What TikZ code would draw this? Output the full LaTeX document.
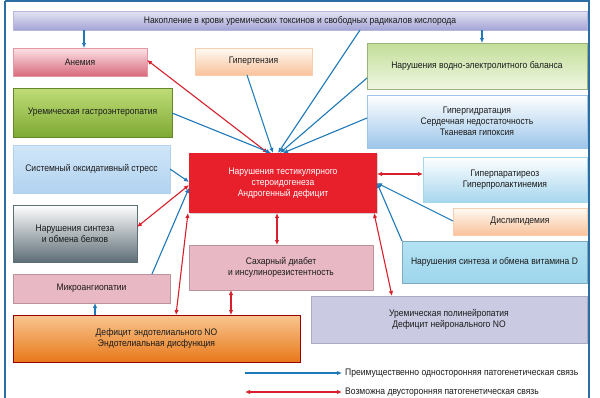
\documentclass[tikz,border=0pt]{standalone}
\usepackage{fontspec}
\setmainfont{Liberation Sans}[FakeStretch=0.9]
\usetikzlibrary{arrows.meta,shadows}
\definecolor{frameblue}{HTML}{2C6EA4}
\definecolor{linkblue}{HTML}{1F78B8}
\definecolor{linkred}{HTML}{D8202C}
\definecolor{txt}{HTML}{1A1A1A}
\definecolor{topA}{HTML}{E4E4F4}\definecolor{topB}{HTML}{A4A4D6}
\definecolor{anA}{HTML}{FBE2E6}\definecolor{anB}{HTML}{D86A7C}
\definecolor{peachA}{HTML}{FFFAF4}\definecolor{peachB}{HTML}{F8C29A}
\definecolor{watA}{HTML}{C2DE98}\definecolor{watB}{HTML}{F0F6E2}
\definecolor{gasA}{HTML}{C0DC78}\definecolor{gasB}{HTML}{7EAA34}
\definecolor{hydB}{HTML}{9CC6EA}
\definecolor{strA}{HTML}{D0E6F8}\definecolor{strB}{HTML}{B2D2F0}
\definecolor{protB}{HTML}{5E6E76}
\definecolor{centre}{HTML}{E8202C}
\definecolor{parB}{HTML}{A6D6EE}
\definecolor{vitA}{HTML}{B4E2F3}\definecolor{vitB}{HTML}{9ED6EC}
\definecolor{pinkbox}{HTML}{E8B8C4}
\definecolor{noA}{HTML}{F8C690}\definecolor{noM}{HTML}{F08A2C}\definecolor{noB}{HTML}{E8781A}
\definecolor{neuro}{HTML}{CACAE2}
\tikzset{
  box/.style={rectangle, anchor=north west, inner sep=0pt, outer sep=0pt, align=center,
    text=txt, font=\fontsize{9.5}{11}\selectfont, draw=#1, line width=0.4pt,
    drop shadow={shadow xshift=0.8pt, shadow yshift=-1.2pt, opacity=0.35}},
  box/.default=gray!40,
  onearrow/.style={draw=linkblue, line width=1.1pt, -{Latex[length=5pt,width=4.5pt]}},
  twoarrow/.style={draw=linkred, line width=1.1pt, {Latex[length=5pt,width=4.5pt]}-{Latex[length=5pt,width=4.5pt]}},
}
\begin{document}
\begin{tikzpicture}[x=1pt,y=-1pt]
\useasboundingbox (0,0) rectangle (600,397);
\fill[white] (0,0) rectangle (600,397);
\draw[frameblue, line width=1.4pt] (5,1) -- (589,1) -- (589,400);
\draw[frameblue, line width=1.4pt] (5,1) -- (5,400);

\node[box=topB!80!white, minimum width=574pt, minimum height=19pt, top color=topA, bottom color=topB] (top) at (13,11) {Накопление в крови уремических токсинов и свободных радикалов кислорода};
\node[box=anB!70!white, minimum width=134pt, minimum height=28pt, top color=anA, bottom color=anB] (anemia) at (13,48) {Анемия};
\node[box=peachB!80!white, minimum width=117pt, minimum height=27pt, top color=peachA, bottom color=peachB] (hyper) at (195,48) {Гипертензия};
\node[box=watA!80!black, minimum width=220pt, minimum height=46pt, top color=watA, bottom color=watB] (water) at (367,43) {Нарушения водно-электролитного баланса};
\node[box=gasB!80!black, minimum width=159pt, minimum height=49pt, top color=gasA, bottom color=gasB] (gastro) at (13,88) {Уремическая гастроэнтеропатия};
\node[box=hydB, minimum width=220pt, minimum height=53pt, top color=white, bottom color=hydB] (hydr) at (367,95) {Гипергидратация\\Сердечная недостаточность\\Тканевая гипоксия};
\node[box=strB, minimum width=157pt, minimum height=48pt, top color=strA, bottom color=strB] (stress) at (13,145) {Системный оксидативный стресс};
\node[box=protB, minimum width=124pt, minimum height=57pt, top color=white, bottom color=protB] (protein) at (13,205) {Нарушения синтеза\\и обмена белков};
\node[rectangle, anchor=north west, inner sep=0pt, outer sep=0pt, fill=centre, minimum width=188pt, minimum height=60pt, text=white, align=center, font=\fontsize{9.5}{11}\selectfont, drop shadow={shadow xshift=0.8pt, shadow yshift=-1.2pt, opacity=0.35}] (center) at (189,153) {Нарушения тестикулярного\\стероидогенеза\\Андрогенный дефицит};
\node[box=parB, minimum width=164pt, minimum height=45pt, top color=white, bottom color=parB] (parath) at (423,157) {Гиперпаратиреоз\\Гиперпролактинемия};
\node[box=peachB!80!white, minimum width=134pt, minimum height=27pt, top color=peachA, bottom color=peachB] (dyslip) at (453,208) {Дислипидемия};
\node[box=vitB!80!black, minimum width=185pt, minimum height=42pt, top color=vitA, bottom color=vitB] (vitd) at (402,241) {Нарушения синтеза и обмена витамина D};
\node[box=pinkbox!80!black, minimum width=184pt, minimum height=45pt, fill=pinkbox] (diab) at (189,245) {Сахарный диабет\\и инсулинорезистентность};
\node[box=pinkbox!80!black, minimum width=157pt, minimum height=29pt, fill=pinkbox] (micro) at (13,274) {Микроангиопатии};
\node[box=red!60!black, minimum width=287pt, minimum height=47pt, top color=noA, middle color=noM, bottom color=noB] (no) at (13,315) {Дефицит эндотелиального NO\\Эндотелиальная дисфункция};
\node[box=neuro!85!black, minimum width=276pt, minimum height=47pt, fill=neuro] (neuro) at (311,296) {Уремическая полинейропатия\\Дефицит нейронального NO};

% top box links
\draw[onearrow] ([xshift=71pt]top.south west) -- ([xshift=71pt]anemia.north west);
\draw[onearrow] ([xshift=469pt]top.south west) -- ([xshift=115pt]water.north west);
% converging on the centre top
\draw[twoarrow] ([yshift=-12pt]anemia.north east) -- ([xshift=79pt]center.north west);
\draw[onearrow] ([xshift=52pt]hyper.south west) -- ([xshift=84pt]center.north west);
\draw[onearrow] ([yshift=-25pt]gastro.north east) -- ([xshift=82pt]center.north west);
\draw[onearrow] ([xshift=347pt]top.south west) -- ([xshift=89pt]center.north west);
\draw[onearrow] ([yshift=-35pt]water.north west) -- ([xshift=91pt]center.north west);
\draw[onearrow] ([yshift=-23pt]hydr.north west) -- ([xshift=94pt]center.north west);
% left side
\draw[onearrow] ([yshift=-24pt]stress.north east) -- ([yshift=-29pt]center.north west);
\draw[twoarrow] ([yshift=-32pt]center.north west) -- ([yshift=-22pt]protein.north east);
\draw[onearrow] ([xshift=139pt]micro.north west) -- ([yshift=-35pt]center.north west);
\draw[twoarrow] ([xshift=-1pt]center.south west) -- ([xshift=163pt]no.north west);
% bottom
\draw[twoarrow] ([xshift=88pt]center.south west) -- ([xshift=88pt]diab.north west);
\draw[twoarrow] ([xshift=42pt]diab.south west) -- ([xshift=218pt]no.north west);
\draw[onearrow] ([xshift=82pt]no.north west) -- ([xshift=82pt]micro.south west);
\draw[twoarrow] ([xshift=-3pt]center.south east) -- ([xshift=81pt]neuro.north west);
% right side
\draw[twoarrow] ([yshift=-21pt]center.north east) -- ([yshift=-17pt]parath.north west);
\draw[onearrow] ([yshift=-13pt]dyslip.north west) -- ([yshift=-30pt]center.north east);
\draw[onearrow] (vitd.north west) -- ([yshift=-30pt]center.north east);

% legend
\coordinate (l1a) at (245,373);
\coordinate (l1b) at (342,373);
\coordinate (l2a) at (245,392);
\coordinate (l2b) at (342,392);
\draw[onearrow] (l1a) -- (l1b);
\draw[twoarrow] (l2a) -- (l2b);
\node[anchor=west, text=txt, inner sep=0pt, font=\fontsize{9.5}{11}\selectfont] (leg1) at ([xshift=3pt]l1b) {Преимущественно односторонняя патогенетическая связь};
\node[anchor=west, text=txt, inner sep=0pt, font=\fontsize{9.5}{11}\selectfont] (leg2) at ([xshift=3pt]l2b) {Возможна двусторонняя патогенетическая связь};
\end{tikzpicture}
\end{document}
